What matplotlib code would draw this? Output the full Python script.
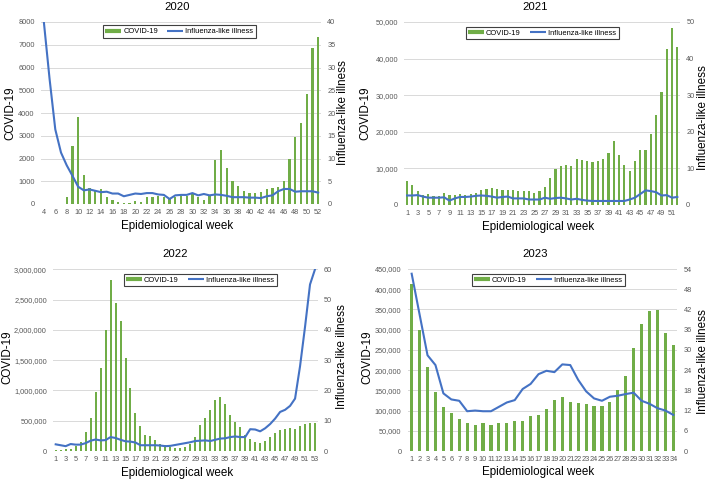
import matplotlib
matplotlib.use('Agg')
import matplotlib.pyplot as plt
from matplotlib.lines import Line2D
from matplotlib.ticker import FuncFormatter
import numpy as np

plt.rcParams['font.family'] = ['Liberation Sans', 'DejaVu Sans']

# ---------------- data ----------------
weeks_2020 = list(range(4, 53))
covid_2020 = [0, 0, 0, 0, 290, 2550, 3830, 1290, 700, 620, 660, 320, 180, 100, 30, 30,
              150, 100, 290, 290, 330, 320, 280, 320, 350, 360, 420, 320, 180, 400,
              1940, 2380, 1570, 1030, 790, 590, 470, 500, 510, 660, 720, 760, 1010,
              1980, 2930, 3580, 4820, 6840, 7330]
ili_2020 = [40, 27.5, 16.4, 11.3, 8.5, 6.2, 3.8, 3.0, 3.2, 2.9, 2.6, 2.7, 2.3, 2.3, 1.7,
            2.0, 2.3, 2.2, 2.4, 2.4, 2.1, 2.0, 1.1, 1.9, 2.0, 2.0, 2.4, 1.9, 2.2, 1.9,
            2.1, 2.0, 1.8, 1.5, 1.5, 1.5, 1.4, 1.4, 1.3, 1.7, 1.9, 2.8, 3.3, 3.3, 2.7,
            2.8, 2.8, 2.8, 2.5]

weeks_2021 = list(range(1, 53))
covid_2021 = [6600, 5400, 3800, 2800, 3000, 2500, 2500, 3200, 2600, 2600, 3000, 2800,
              2900, 3300, 4100, 4400, 4700, 4300, 4000, 4100, 4100, 3900, 3900, 3800,
              3200, 3700, 4800, 7400, 9800, 10700, 10900, 10700, 12700, 12300, 12100,
              11800, 12000, 12700, 14300, 17500, 13700, 11000, 9400, 12100, 15000,
              15100, 19300, 24700, 30900, 42700, 48300, 43200]
ili_2021 = [2.6, 2.6, 2.7, 2.3, 2.0, 2.0, 2.0, 2.1, 1.2, 1.8, 2.2, 2.2, 2.3, 2.5, 2.6,
            2.5, 2.3, 2.0, 2.2, 2.3, 1.8, 1.8, 1.8, 1.5, 1.5, 1.5, 2.0, 1.7, 1.9, 2.0,
            1.8, 1.5, 1.7, 1.4, 1.2, 1.1, 1.1, 1.1, 1.1, 1.1, 1.1, 1.1, 1.5, 2.0, 3.0,
            4.0, 3.8, 3.5, 2.6, 2.7, 2.0, 2.2]

weeks_2022 = list(range(1, 54))
covid_2022 = [20000, 20000, 25000, 40000, 90000, 150000, 320000, 550000, 970000,
              1370000, 2000000, 2830000, 2450000, 2140000, 1530000, 1040000, 620000,
              410000, 270000, 250000, 180000, 120000, 100000, 70000, 50000, 50000,
              60000, 120000, 230000, 430000, 550000, 680000, 850000, 890000, 770000,
              600000, 480000, 390000, 270000, 200000, 150000, 140000, 170000, 230000,
              300000, 350000, 370000, 380000, 370000, 410000, 450000, 470000, 460000]
ili_2022 = [2.2, 1.9, 1.6, 2.3, 2.1, 2.1, 2.6, 3.4, 3.8, 3.5, 3.6, 4.6, 4.3, 3.7, 3.2,
            3.1, 2.8, 1.9, 1.9, 1.9, 1.9, 1.8, 1.6, 1.7, 2.0, 2.3, 2.6, 2.9, 3.3, 3.4,
            3.5, 3.3, 3.7, 4.1, 4.2, 4.6, 4.8, 4.6, 4.6, 7.2, 7.1, 6.5, 7.5, 8.9, 10.7,
            12.9, 13.6, 14.9, 17.3, 28, 41, 55, 60]

weeks_2023 = list(range(1, 35))
covid_2023 = [413000, 300000, 208000, 146000, 110000, 93000, 80000, 69000, 65000,
              69000, 64000, 69000, 69000, 74000, 74000, 86000, 89000, 104000, 126000,
              133000, 121000, 119000, 116000, 112000, 111000, 121000, 152000, 186000,
              254000, 313000, 346000, 348000, 291000, 263000]
ili_2023 = [52.6, 40.5, 28.4, 25.5, 17.1, 15.3, 14.9, 11.8, 12.0, 11.8, 11.8, 13.1,
            14.4, 15.1, 18.4, 19.9, 22.8, 23.8, 23.4, 25.7, 25.5, 21.1, 17.7, 15.6,
            14.9, 16.1, 16.4, 16.9, 17.3, 14.9, 14.0, 12.7, 12.0, 10.7]

legend_labels = ['COVID-19', 'Influenza-like illness']

# ---------------- style ----------------
GREEN = '#70AD47'
BLUE = '#4472C4'
GRID = '#D9D9D9'
TICKC = '#595959'
W, H = 709, 480

fig = plt.figure(figsize=(W / 100, H / 100), dpi=100)


def fx(x):
    return x / W


def fy(y):
    return 1 - y / H


def panel(rect, weeks, covid, ili, left_max, left_step, right_max, right_step,
          tick_step, comma, title, title_xy, leg_xy, xlabel_xy, ylabel_xy, y2label_xy):
    x0, y0, x1, y1 = rect
    ax = fig.add_axes([fx(x0), fy(y1), (x1 - x0) / W, (y1 - y0) / H])
    ax2 = ax.twinx()
    ax.bar(weeks, covid, width=0.4, color=GREEN, zorder=2)
    ax2.plot(weeks, ili, color=BLUE, lw=1.5, solid_joinstyle='round')
    ax.set_xlim(weeks[0] - 0.5, weeks[-1] + 0.5)
    ax.set_ylim(0, left_max)
    ax.set_yticks(np.arange(0, left_max + 1, left_step))
    ax2.set_ylim(0, right_max)
    ax2.set_yticks(np.arange(0, right_max + 0.01, right_step))
    ax.set_xticks(weeks[::tick_step])
    ax.set_xticklabels([str(w) for w in weeks[::tick_step]])
    if comma:
        ax.yaxis.set_major_formatter(FuncFormatter(lambda v, p: f"{int(v):,}"))
    else:
        ax.yaxis.set_major_formatter(FuncFormatter(lambda v, p: f"{int(v)}"))
    ax2.yaxis.set_major_formatter(FuncFormatter(lambda v, p: f"{int(v)}"))
    ax.set_axisbelow(True)
    ax.grid(axis='y', color=GRID, lw=0.7)
    for a in (ax, ax2):
        for s in a.spines.values():
            s.set_visible(False)
    ax.tick_params(axis='x', length=0, pad=3.5, labelsize=5.3, labelcolor=TICKC)
    ax.tick_params(axis='y', length=0, pad=4.5, labelsize=5.3, labelcolor=TICKC)
    ax2.tick_params(axis='y', length=0, pad=4.5, labelsize=5.3, labelcolor=TICKC)

    ax.set_xlabel('Epidemiological week', fontsize=8.4, va='center', ha='center')
    ax.xaxis.set_label_coords(fx(xlabel_xy[0]), fy(xlabel_xy[1]), transform=fig.transFigure)
    ax.set_ylabel('COVID-19', fontsize=8.4, va='center', ha='center', rotation=90)
    ax.yaxis.set_label_coords(fx(ylabel_xy[0]), fy(ylabel_xy[1]), transform=fig.transFigure)
    ax2.set_ylabel('Influenza-like illness', fontsize=8.4, va='center', ha='center', rotation=90)
    ax2.yaxis.set_label_coords(fx(y2label_xy[0]), fy(y2label_xy[1]), transform=fig.transFigure)

    fig.text(fx(title_xy[0]), fy(title_xy[1]), title, fontsize=8.2, ha='center', va='center')

    handles = [Line2D([], [], color=GREEN, lw=3.0, solid_capstyle='butt'),
               Line2D([], [], color=BLUE, lw=1.5, solid_capstyle='butt')]
    leg = ax2.legend(handles, legend_labels, loc='center',
                     bbox_to_anchor=(fx(leg_xy[0]), fy(leg_xy[1])),
                     bbox_transform=fig.transFigure, ncol=2, fontsize=5.4,
                     frameon=True, fancybox=False, framealpha=1, edgecolor='#404040',
                     handlelength=2.1, handletextpad=0.3, columnspacing=1.2,
                     borderpad=0.35, borderaxespad=0)
    leg.get_frame().set_linewidth(0.8)
    return ax, ax2


panel((41, 22, 321, 204), weeks_2020, covid_2020, ili_2020, 8000, 1000, 40, 5, 2, False,
      '2020', (177, 7), (179, 31.5), (177, 226), (10, 113), (343, 113))
panel((404.4, 22, 680, 205), weeks_2021, covid_2021, ili_2021, 50000, 10000, 50, 10, 2, True,
      '2021', (535, 7.5), (542, 33), (538, 226.5), (365, 113), (703, 118))
panel((53.2, 269.3, 317.5, 451), weeks_2022, covid_2022, ili_2022, 3000000, 500000, 60, 10, 2, True,
      '2022', (175, 254), (200, 280), (177, 473), (7, 357), (342, 357))
panel((407.7, 269, 677.3, 451), weeks_2023, covid_2023, ili_2023, 450000, 50000, 54, 6, 1, True,
      '2023', (535, 254), (548, 280), (538, 472), (367, 357), (703, 362))

fig.savefig('out.png', dpi=100)
